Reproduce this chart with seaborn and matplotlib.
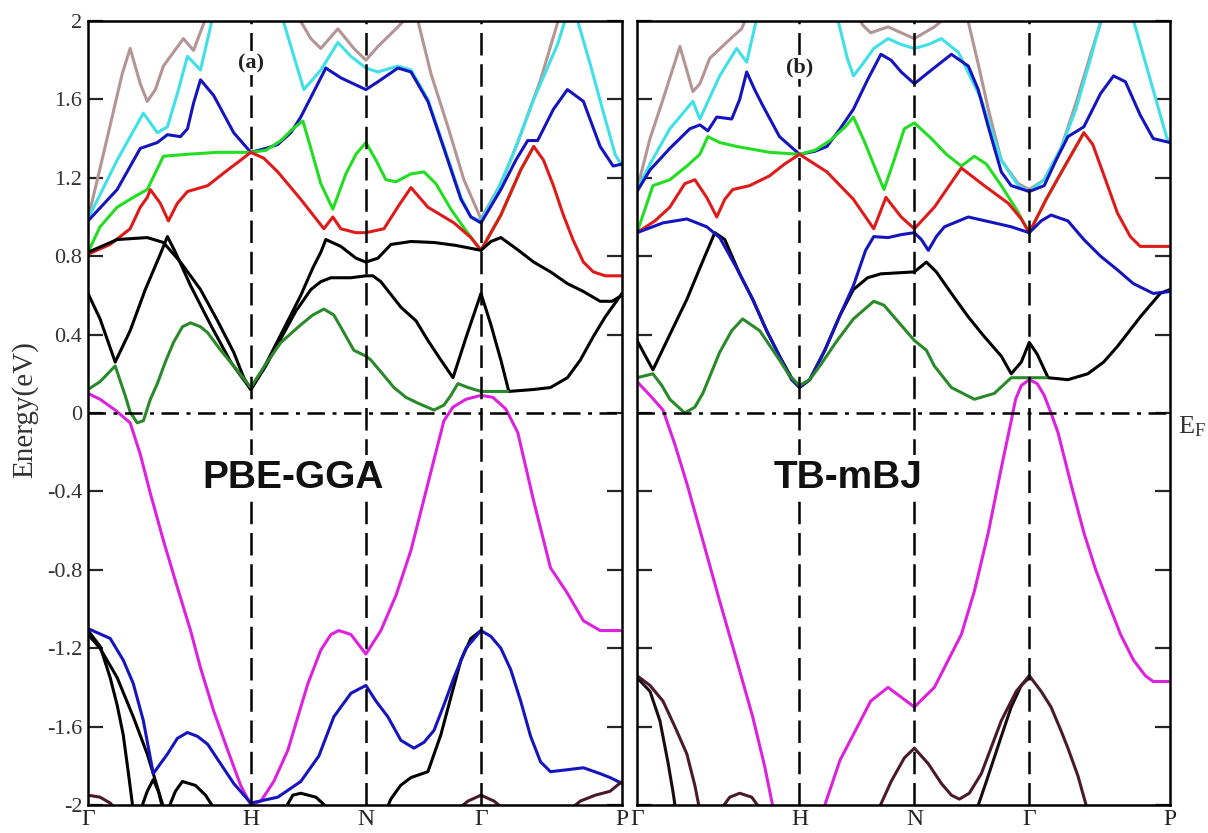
import numpy as np
import matplotlib
matplotlib.use("Agg")
import matplotlib.pyplot as plt
import matplotlib.transforms as mtransforms
import seaborn as sns

# ---------------------------------------------------------------------------
# k-path (bcc): Gamma-H-N-Gamma-P, cumulative distances
k_nodes = [0.0, 1.0, 1.7071, 2.4142, 3.2802]
k_labels = ["\u0393", "H", "N", "\u0393", "P"]
e_ticks = [-2.0, -1.6, -1.2, -0.8, -0.4, 0.0, 0.4, 0.8, 1.2, 1.6, 2.0]
e_tick_labels = ["-2", "-1.6", "-1.2", "-0.8", "-0.4", "0", "0.4", "0.8", "1.2", "1.6", "2"]

# ---------------------------------------------------------------------------
# (a) PBE-GGA bands (k, E in eV)
gga_magenta_k = [0, 0.074, 0.167, 0.259, 0.321, 0.383, 0.463, 0.549, 0.63, 0.691, 0.772, 0.858, 0.938, 1.0,
                 1.062, 1.141, 1.228, 1.307, 1.351, 1.43, 1.492, 1.541, 1.615, 1.707, 1.799, 1.892, 1.984,
                 2.088, 2.186, 2.242, 2.322, 2.414, 2.487, 2.567, 2.64, 2.738, 2.841, 2.945, 3.043, 3.146, 3.28]
gga_magenta_e = [0.10, 0.07, 0.015, -0.05, -0.21, -0.41, -0.65, -0.89, -1.11, -1.30, -1.52, -1.72, -1.90, -2.0,
                 -1.98, -1.88, -1.72, -1.50, -1.38, -1.21, -1.13, -1.11, -1.13, -1.23, -1.11, -0.93, -0.70,
                 -0.36, -0.04, 0.03, 0.07, 0.09, 0.08, 0.02, -0.10, -0.45, -0.79, -0.92, -1.06, -1.11, -1.11]

gga_dgreen_k = [0, 0.074, 0.167, 0.228, 0.259, 0.302, 0.34, 0.383, 0.426, 0.475, 0.525, 0.58, 0.63, 0.691,
                0.735, 0.815, 0.895, 1.0, 1.092, 1.185, 1.307, 1.381, 1.449, 1.51, 1.572, 1.633, 1.707, 1.738,
                1.799, 1.879, 1.953, 2.027, 2.125, 2.186, 2.229, 2.272, 2.334, 2.414, 2.579]
gga_dgreen_e = [0.12, 0.16, 0.24, 0.09, 0.005, -0.05, -0.04, 0.07, 0.15, 0.26, 0.36, 0.44, 0.46, 0.44,
                0.41, 0.32, 0.24, 0.13, 0.25, 0.36, 0.45, 0.50, 0.53, 0.50, 0.41, 0.32, 0.29, 0.27,
                0.21, 0.13, 0.08, 0.05, 0.015, 0.04, 0.09, 0.15, 0.13, 0.11, 0.11]

gga_black1_k = [0, 0.179, 0.364, 0.463, 0.568, 0.691, 0.796, 0.895, 0.957, 1.0,
                1.074, 1.154, 1.246, 1.307, 1.381, 1.43, 1.461, 1.553, 1.646, 1.707,
                1.781, 1.861, 1.984, 2.125, 2.26, 2.414,
                2.475, 2.536, 2.628, 2.738, 2.841, 2.945, 3.043, 3.146, 3.219, 3.28]
gga_black1_e = [0.82, 0.885, 0.895, 0.87, 0.77, 0.63, 0.47, 0.31, 0.18, 0.12,
                0.22, 0.35, 0.50, 0.60, 0.74, 0.82, 0.885, 0.85, 0.79, 0.77,
                0.79, 0.86, 0.875, 0.87, 0.855, 0.83,
                0.875, 0.895, 0.84, 0.77, 0.72, 0.66, 0.62, 0.57, 0.57, 0.60]

gga_black2_k = [0, 0.074, 0.167, 0.259, 0.352, 0.444, 0.488, 0.537, 0.63, 0.753, 0.877, 1.0,
                1.092, 1.185, 1.277, 1.369, 1.43, 1.492, 1.615, 1.707,
                1.75, 1.799, 1.922, 2.015, 2.088, 2.168, 2.242, 2.328, 2.414,
                2.475, 2.536, 2.585, 2.738, 2.841, 2.945, 3.024, 3.104, 3.177, 3.28]
gga_black2_e = [0.61, 0.48, 0.26, 0.42, 0.63, 0.81, 0.90, 0.82, 0.65, 0.45, 0.26, 0.12,
                0.24, 0.38, 0.52, 0.63, 0.67, 0.69, 0.69, 0.70,
                0.70, 0.67, 0.54, 0.47, 0.37, 0.27, 0.18, 0.40, 0.61,
                0.45, 0.27, 0.11, 0.12, 0.13, 0.18, 0.27, 0.39, 0.49, 0.61]

gga_red_k = [0, 0.136, 0.259, 0.321, 0.364, 0.383, 0.444, 0.494, 0.549, 0.611, 0.735, 0.858, 0.938, 1.0,
             1.08, 1.166, 1.307, 1.449, 1.504, 1.553, 1.646, 1.707, 1.818, 1.91, 1.984, 2.088, 2.248,
             2.352, 2.414, 2.536, 2.658, 2.738, 2.798, 2.859, 2.92, 2.981, 3.043, 3.104, 3.177, 3.28]
gga_red_e = [0.81, 0.86, 0.94, 1.05, 1.10, 1.14, 1.07, 0.98, 1.07, 1.13, 1.16, 1.24, 1.29, 1.33,
             1.30, 1.23, 1.09, 0.94, 1.00, 0.94, 0.92, 0.92, 0.94, 1.06, 1.15, 1.05, 0.97,
             0.895, 0.83, 1.01, 1.24, 1.36, 1.29, 1.16, 1.01, 0.88, 0.77, 0.72, 0.70, 0.70]

gga_lime_k = [0, 0.074, 0.179, 0.278, 0.364, 0.463, 0.611, 0.796, 1.0, 1.092, 1.185, 1.258, 1.32, 1.369,
              1.43, 1.504, 1.584, 1.646, 1.707, 1.769, 1.83, 1.892, 1.984, 2.064, 2.137, 2.229, 2.322,
              2.414, 2.536, 2.658, 2.738]
gga_lime_e = [0.82, 0.95, 1.05, 1.10, 1.14, 1.31, 1.32, 1.33, 1.33, 1.34, 1.39, 1.45, 1.49, 1.35,
              1.17, 1.04, 1.22, 1.32, 1.38, 1.29, 1.19, 1.18, 1.22, 1.23, 1.17, 1.04, 0.93,
              0.83, 1.01, 1.24, 1.36]

gga_blue_k = [0, 0.179, 0.321, 0.426, 0.488, 0.568, 0.611, 0.648, 0.691, 0.772, 0.895, 1.0, 1.092, 1.166,
              1.246, 1.307, 1.381, 1.461, 1.553, 1.707, 1.781, 1.904, 1.984, 2.088, 2.186, 2.291, 2.352,
              2.414, 2.536, 2.628, 2.701, 2.762, 2.859, 2.945, 3.043, 3.146, 3.226, 3.28]
gga_blue_e = [0.98, 1.14, 1.35, 1.38, 1.42, 1.41, 1.45, 1.58, 1.70, 1.62, 1.43, 1.33, 1.35, 1.37,
              1.43, 1.51, 1.63, 1.76, 1.71, 1.65, 1.69, 1.76, 1.74, 1.59, 1.35, 1.09, 1.0,
              0.97, 1.14, 1.29, 1.39, 1.39, 1.55, 1.65, 1.59, 1.36, 1.26, 1.27]

gga_cyan1_k = [0, 0.179, 0.34, 0.426, 0.488, 0.549, 0.611, 0.691, 0.772]
gga_cyan1_e = [0.99, 1.29, 1.53, 1.43, 1.46, 1.63, 1.82, 1.75, 2.04]
gga_cyan2_k = [1.185, 1.326, 1.43, 1.535, 1.615, 1.707, 1.781, 1.904, 1.984, 2.088, 2.186, 2.291, 2.352,
               2.414, 2.506, 2.597, 2.738, 2.884, 2.945]
gga_cyan2_e = [2.04, 1.65, 1.75, 1.89, 1.82, 1.76, 1.74, 1.77, 1.75, 1.60, 1.36, 1.10, 1.0,
               0.98, 1.12, 1.29, 1.60, 1.88, 2.04]
gga_cyan3_k = [2.994, 3.085, 3.177, 3.238, 3.28]
gga_cyan3_e = [2.04, 1.78, 1.50, 1.32, 1.26]

gga_gray1_k = [0, 0.117, 0.21, 0.259, 0.321, 0.364, 0.414, 0.463, 0.586, 0.648, 0.735]
gga_gray1_e = [0.99, 1.40, 1.73, 1.86, 1.68, 1.59, 1.65, 1.77, 1.91, 1.85, 2.04]
gga_gray2_k = [1.277, 1.369, 1.43, 1.535, 1.633, 1.707, 1.781, 1.904, 1.984]
gga_gray2_e = [2.04, 1.91, 1.86, 1.96, 1.86, 1.80, 1.87, 1.97, 2.04]
gga_gray3_k = [2.015, 2.107, 2.211, 2.309, 2.414, 2.536, 2.64, 2.78, 2.902]
gga_gray3_e = [2.04, 1.73, 1.46, 1.19, 0.99, 1.17, 1.38, 1.70, 2.04]

gga_blue_low_k = [0, 0.136, 0.216, 0.278, 0.34, 0.401, 0.444, 0.488, 0.549, 0.611, 0.673, 0.735, 0.815,
                  0.895, 1.0, 1.166, 1.307, 1.418, 1.51, 1.615, 1.707, 1.769, 1.842, 1.922, 2.002, 2.064,
                  2.125, 2.186, 2.248, 2.322, 2.414, 2.475, 2.536, 2.597, 2.658, 2.719, 2.78, 2.841,
                  2.945, 3.043, 3.146, 3.207, 3.28]
gga_blue_low_e = [-1.10, -1.15, -1.26, -1.38, -1.57, -1.84, -1.79, -1.74, -1.66, -1.63, -1.65, -1.69, -1.79,
                  -1.89, -1.99, -1.96, -1.88, -1.75, -1.55, -1.43, -1.39, -1.47, -1.55, -1.67, -1.71, -1.68,
                  -1.62, -1.49, -1.35, -1.20, -1.11, -1.14, -1.20, -1.31, -1.47, -1.65, -1.78, -1.83,
                  -1.82, -1.81, -1.84, -1.86, -1.89]

gga_low1_k = [0, 0.074, 0.136, 0.179, 0.216, 0.247, 0.278]
gga_low1_e = [-1.11, -1.19, -1.35, -1.49, -1.64, -1.83, -2.03]
gga_low2_k = [0, 0.074, 0.179, 0.278, 0.364, 0.401, 0.47]
gga_low2_e = [-1.13, -1.20, -1.35, -1.55, -1.74, -1.84, -2.03]
gga_low3_k = [0.321, 0.364, 0.401, 0.432, 0.463]
gga_low3_e = [-2.03, -1.93, -1.87, -1.93, -2.03]
gga_low4_k = [0.488, 0.537, 0.58, 0.66, 0.722, 0.784]
gga_low4_e = [-2.03, -1.93, -1.88, -1.90, -1.95, -2.03]
gga_low5_k = [1.203, 1.258, 1.307, 1.4, 1.492]
gga_low5_e = [-2.03, -1.95, -1.94, -1.96, -2.03]
gga_low6_k = [1.83, 1.86, 1.92, 1.984, 2.088, 2.168, 2.229, 2.291, 2.352, 2.414]
gga_low6_e = [-2.03, -1.97, -1.90, -1.86, -1.83, -1.64, -1.45, -1.26, -1.15, -1.11]

gga_maroon1_k = [0, 0.074, 0.136, 0.185]
gga_maroon1_e = [-1.95, -1.96, -1.99, -2.03]
gga_maroon2_k = [2.26, 2.334, 2.414, 2.494, 2.567]
gga_maroon2_e = [-2.03, -1.98, -1.95, -1.98, -2.03]
gga_maroon3_k = [2.951, 3.024, 3.116, 3.207, 3.28]
gga_maroon3_e = [-2.03, -1.98, -1.95, -1.93, -1.88]

# ---------------------------------------------------------------------------
# (b) TB-mBJ bands (k, E in eV)
mbj_magenta_k = [0, 0.08, 0.16, 0.233, 0.307, 0.405, 0.509, 0.613, 0.712, 0.785, 0.834, 0.859,
                 1.138, 1.156, 1.25, 1.332, 1.438, 1.545, 1.626, 1.707, 1.83, 1.916, 1.996, 2.076, 2.162,
                 2.242, 2.303, 2.33, 2.365, 2.414, 2.463, 2.506, 2.548, 2.591, 2.67, 2.75, 2.823, 2.896,
                 2.976, 3.055, 3.128, 3.177, 3.28]
mbj_magenta_e = [0.16, 0.09, 0.015, -0.16, -0.36, -0.65, -0.96, -1.26, -1.55, -1.80, -2.0, -2.06,
                 -2.06, -2.0, -1.77, -1.64, -1.47, -1.40, -1.45, -1.50, -1.40, -1.26, -1.13, -0.91, -0.61,
                 -0.28, -0.04, 0.07, 0.14, 0.17, 0.15, 0.09, 0.0, -0.10, -0.36, -0.61, -0.80, -0.96,
                 -1.13, -1.26, -1.34, -1.37, -1.37]

mbj_dgreen_k = [0, 0.098, 0.153, 0.202, 0.294, 0.356, 0.405, 0.509, 0.583, 0.65, 0.755, 0.877, 0.939, 1.0,
                1.063, 1.125, 1.232, 1.332, 1.457, 1.52, 1.582, 1.707, 1.781, 1.83, 1.935, 2.076, 2.199,
                2.303, 2.414, 2.518]
mbj_dgreen_e = [0.18, 0.20, 0.14, 0.07, 0.0, 0.03, 0.10, 0.31, 0.42, 0.48, 0.42, 0.27, 0.19, 0.14,
                0.17, 0.24, 0.37, 0.48, 0.57, 0.55, 0.49, 0.37, 0.32, 0.24, 0.13, 0.07, 0.10,
                0.18, 0.18, 0.18]

mbj_black_k = [0, 0.098, 0.202, 0.307, 0.387, 0.479, 0.54, 0.632, 0.712, 0.798, 0.877, 0.951, 1.0,
               1.063, 1.156, 1.25, 1.332, 1.419, 1.501, 1.707, 1.781, 1.842, 1.935, 2.039, 2.137, 2.242,
               2.303, 2.365, 2.414, 2.463, 2.53, 2.652, 2.774, 2.872, 2.957, 3.097, 3.22, 3.28]
mbj_black_e = [0.37, 0.22, 0.40, 0.58, 0.74, 0.92, 0.885, 0.71, 0.58, 0.42, 0.29, 0.18, 0.13,
               0.17, 0.32, 0.50, 0.63, 0.69, 0.71, 0.72, 0.77, 0.72, 0.61, 0.49, 0.39, 0.29,
               0.20, 0.26, 0.36, 0.30, 0.18, 0.17, 0.20, 0.26, 0.34, 0.49, 0.61, 0.63]

mbj_blue_low_k = [0, 0.16, 0.307, 0.429, 0.509, 0.613, 0.712, 0.798, 0.877, 0.951, 1.0, 1.063, 1.156,
                  1.25, 1.332, 1.407, 1.457, 1.545, 1.626, 1.707, 1.75, 1.793, 1.842, 1.892, 2.039, 2.199,
                  2.303, 2.414, 2.487, 2.548, 2.652, 2.75, 2.853, 2.957, 3.055, 3.177, 3.28]
mbj_blue_low_e = [0.92, 0.97, 0.99, 0.95, 0.895, 0.74, 0.58, 0.42, 0.29, 0.17, 0.13, 0.17, 0.32,
                  0.50, 0.65, 0.83, 0.90, 0.895, 0.91, 0.92, 0.885, 0.83, 0.90, 0.95, 1.0, 0.97,
                  0.95, 0.92, 0.98, 1.01, 0.98, 0.885, 0.80, 0.73, 0.66, 0.61, 0.62]

mbj_red_k = [0, 0.11, 0.202, 0.294, 0.356, 0.429, 0.491, 0.54, 0.589, 0.693, 0.816, 0.908, 1.0, 1.169,
             1.332, 1.457, 1.532, 1.626, 1.707, 1.83, 1.996, 2.137, 2.285, 2.365, 2.414, 2.518, 2.64,
             2.75, 2.805, 2.853, 2.957, 3.036, 3.097, 3.28]
mbj_red_e = [0.92, 0.98, 1.05, 1.17, 1.19, 1.10, 1.0, 1.09, 1.14, 1.16, 1.21, 1.27, 1.32, 1.23,
             1.09, 0.94, 1.10, 1.0, 0.94, 1.05, 1.25, 1.16, 1.07, 0.99, 0.92, 1.09, 1.27,
             1.43, 1.37, 1.26, 1.02, 0.90, 0.85, 0.85]

mbj_lime_k = [0, 0.098, 0.202, 0.307, 0.387, 0.436, 0.509, 0.613, 0.816, 1.0, 1.094, 1.188, 1.282, 1.332,
              1.407, 1.47, 1.52, 1.582, 1.645, 1.707, 1.812, 1.904, 1.996, 2.076, 2.15, 2.242, 2.334,
              2.414, 2.518, 2.64, 2.75]
mbj_lime_e = [0.92, 1.16, 1.19, 1.26, 1.32, 1.41, 1.38, 1.36, 1.33, 1.32, 1.34, 1.39, 1.46, 1.51,
              1.37, 1.24, 1.14, 1.29, 1.45, 1.48, 1.40, 1.32, 1.26, 1.31, 1.27, 1.16, 1.04,
              0.92, 1.09, 1.27, 1.43]

mbj_blue_k = [0, 0.08, 0.202, 0.325, 0.387, 0.436, 0.491, 0.583, 0.632, 0.675, 0.724, 0.773, 0.877, 1.0,
              1.094, 1.169, 1.25, 1.332, 1.419, 1.501, 1.564, 1.626, 1.707, 1.812, 1.935, 2.039, 2.1,
              2.162, 2.242, 2.303, 2.414, 2.506, 2.579, 2.652, 2.75, 2.853, 2.933, 3.006, 3.097, 3.177, 3.28]
mbj_blue_e = [1.13, 1.24, 1.35, 1.45, 1.47, 1.44, 1.51, 1.50, 1.60, 1.74, 1.65, 1.57, 1.41, 1.32,
              1.335, 1.36, 1.45, 1.55, 1.70, 1.83, 1.80, 1.74, 1.68, 1.75, 1.83, 1.77, 1.65,
              1.46, 1.23, 1.16, 1.13, 1.16, 1.29, 1.41, 1.46, 1.63, 1.72, 1.69, 1.52, 1.40, 1.38]

mbj_cyan1_k = [0, 0.08, 0.202, 0.344, 0.387, 0.448, 0.509, 0.613, 0.675, 0.736, 0.755]
mbj_cyan1_e = [1.14, 1.27, 1.45, 1.59, 1.50, 1.61, 1.72, 1.86, 1.79, 2.01, 2.06]
mbj_cyan2_k = [1.219, 1.25, 1.294, 1.332, 1.388, 1.457, 1.545, 1.626, 1.707, 1.793, 1.873, 1.978, 2.119,
               2.242, 2.346, 2.414, 2.506, 2.609, 2.701, 2.792, 2.866]
mbj_cyan2_e = [2.06, 1.96, 1.81, 1.72, 1.78, 1.86, 1.91, 1.88, 1.86, 1.88, 1.91, 1.84, 1.60,
               1.29, 1.16, 1.13, 1.19, 1.35, 1.55, 1.81, 2.04]
mbj_cyan3_k = [3.043, 3.159, 3.262, 3.28]
mbj_cyan3_e = [2.04, 1.70, 1.40, 1.39]

mbj_gray1_k = [0, 0.08, 0.16, 0.264, 0.344, 0.387, 0.448, 0.589, 0.644, 0.693]
mbj_gray1_e = [1.14, 1.40, 1.60, 1.87, 1.64, 1.68, 1.81, 1.92, 1.96, 2.06]
mbj_gray2_k = [1.344, 1.388, 1.438, 1.545, 1.626, 1.707, 1.768, 1.83, 1.904]
mbj_gray2_e = [2.06, 1.98, 1.94, 1.97, 1.94, 1.91, 1.94, 1.97, 2.02]
mbj_gray3_k = [2.008, 2.039, 2.1, 2.162, 2.242, 2.346, 2.414, 2.506, 2.609, 2.701, 2.792, 2.872]
mbj_gray3_e = [2.06, 1.995, 1.78, 1.55, 1.29, 1.17, 1.14, 1.19, 1.35, 1.58, 1.83, 2.04]

mbj_maroon1_k = [0, 0.08, 0.16, 0.233, 0.307, 0.356, 0.387]
mbj_maroon1_e = [-1.34, -1.39, -1.47, -1.60, -1.74, -1.90, -2.03]
mbj_maroon2_k = [0, 0.08, 0.141, 0.19, 0.221, 0.239]
mbj_maroon2_e = [-1.35, -1.42, -1.57, -1.78, -1.93, -2.03]
mbj_maroon3_k = [0.509, 0.571, 0.632, 0.706, 0.767]
mbj_maroon3_e = [-2.03, -1.96, -1.94, -1.96, -2.03]
mbj_maroon4_k = [1.482, 1.564, 1.645, 1.707, 1.793, 1.873, 1.935, 1.984, 2.045, 2.119, 2.242, 2.334,
                 2.414, 2.487, 2.548, 2.609, 2.652, 2.713, 2.774]
mbj_maroon4_e = [-2.03, -1.88, -1.76, -1.71, -1.79, -1.89, -1.95, -1.97, -1.94, -1.84, -1.57, -1.42,
                 -1.34, -1.42, -1.50, -1.62, -1.71, -1.85, -2.03]
mbj_maroon5_k = [2.088, 2.15, 2.242, 2.303, 2.365, 2.414]
mbj_maroon5_e = [-2.03, -1.88, -1.65, -1.50, -1.39, -1.35]

# ---------------------------------------------------------------------------
C_BLACK = "#000000"
C_DGREEN = "#2a8a2a"
C_MAGENTA = "#dd22dd"
C_BLUE = "#1515c0"
C_RED = "#e01a1a"
C_LIME = "#22dd22"
C_CYAN = "#3fe0e8"
C_GRAY = "#b49494"
C_MAROON = "#4a1a2c"
C_DARK = "#1c0a12"

sns.set_theme(style="ticks")
plt.rcParams["font.family"] = ["Liberation Serif", "DejaVu Serif"]
plt.rcParams["mathtext.fontset"] = "stix"
plt.rcParams["lines.solid_joinstyle"] = "round"
plt.rcParams["lines.solid_capstyle"] = "round"

fig = plt.figure(figsize=(12.08, 8.33), dpi=100)
fig.patch.set_facecolor("white")
ax_a = fig.add_axes([88 / 1208, 28 / 833, 534 / 1208, 784 / 833])
ax_b = fig.add_axes([637 / 1208, 28 / 833, 533 / 1208, 784 / 833])


def band(ax, k, e, color, z=2):
    sns.lineplot(x=k, y=e, ax=ax, color=color, linewidth=2.2, sort=False,
                 estimator=None, zorder=z, legend=False)


gga_bands = [
    (gga_gray1_k, gga_gray1_e, C_GRAY), (gga_gray2_k, gga_gray2_e, C_GRAY), (gga_gray3_k, gga_gray3_e, C_GRAY),
    (gga_cyan1_k, gga_cyan1_e, C_CYAN), (gga_cyan2_k, gga_cyan2_e, C_CYAN), (gga_cyan3_k, gga_cyan3_e, C_CYAN),
    (gga_blue_k, gga_blue_e, C_BLUE),
    (gga_lime_k, gga_lime_e, C_LIME),
    (gga_red_k, gga_red_e, C_RED),
    (gga_black1_k, gga_black1_e, C_BLACK), (gga_black2_k, gga_black2_e, C_BLACK),
    (gga_dgreen_k, gga_dgreen_e, C_DGREEN),
    (gga_magenta_k, gga_magenta_e, C_MAGENTA),
    (gga_low1_k, gga_low1_e, C_BLACK), (gga_low2_k, gga_low2_e, C_BLACK), (gga_low3_k, gga_low3_e, C_BLACK),
    (gga_low4_k, gga_low4_e, C_BLACK), (gga_low5_k, gga_low5_e, C_BLACK), (gga_low6_k, gga_low6_e, C_BLACK),
    (gga_blue_low_k, gga_blue_low_e, C_BLUE),
    (gga_maroon1_k, gga_maroon1_e, C_MAROON), (gga_maroon2_k, gga_maroon2_e, C_MAROON),
    (gga_maroon3_k, gga_maroon3_e, C_MAROON),
]

mbj_bands = [
    (mbj_gray1_k, mbj_gray1_e, C_GRAY), (mbj_gray2_k, mbj_gray2_e, C_GRAY), (mbj_gray3_k, mbj_gray3_e, C_GRAY),
    (mbj_cyan1_k, mbj_cyan1_e, C_CYAN), (mbj_cyan2_k, mbj_cyan2_e, C_CYAN), (mbj_cyan3_k, mbj_cyan3_e, C_CYAN),
    (mbj_blue_k, mbj_blue_e, C_BLUE),
    (mbj_lime_k, mbj_lime_e, C_LIME),
    (mbj_red_k, mbj_red_e, C_RED),
    (mbj_black_k, mbj_black_e, C_BLACK),
    (mbj_blue_low_k, mbj_blue_low_e, C_BLUE),
    (mbj_dgreen_k, mbj_dgreen_e, C_DGREEN),
    (mbj_magenta_k, mbj_magenta_e, C_MAGENTA),
    (mbj_maroon2_k, mbj_maroon2_e, C_DARK), (mbj_maroon5_k, mbj_maroon5_e, C_DARK),
    (mbj_maroon1_k, mbj_maroon1_e, C_MAROON), (mbj_maroon3_k, mbj_maroon3_e, C_MAROON),
    (mbj_maroon4_k, mbj_maroon4_e, C_MAROON),
]

for ax, bands in ((ax_a, gga_bands), (ax_b, mbj_bands)):
    for i, (k, e, c) in enumerate(bands):
        band(ax, k, e, c, z=2 + i * 0.01)

    ax.set_xlim(k_nodes[0], k_nodes[-1])
    ax.set_ylim(-2, 2)
    ax.set_xlabel("")
    ax.set_ylabel("")
    ax.set_xticks(k_nodes)
    ax.set_xticklabels(k_labels)
    ax.set_yticks(e_ticks)
    ax.tick_params(axis="x", length=0, pad=3, labelsize=17, colors="#222222")
    ax.tick_params(axis="y", direction="in", length=11, width=1.6, left=True, right=True,
                   labelsize=16, labelcolor="#333333", pad=4)
    for side in ("left", "right", "top", "bottom"):
        ax.spines[side].set_visible(True)
        ax.spines[side].set_linewidth(1.8)
        ax.spines[side].set_color("black")

    # high-symmetry points and Fermi level
    for kv in k_nodes[1:-1]:
        ax.axvline(kv, color="black", linewidth=1.8, linestyle=(0, (9, 3.5)), zorder=5)
    ax.axhline(0, color="black", linewidth=1.8, linestyle=(0, (7, 3, 1.6, 3)), zorder=5)

ax_a.set_yticklabels(e_tick_labels)
ax_b.set_yticklabels([])

panel_box = dict(facecolor="white", edgecolor="none", pad=1.5)
ax_a.text(1.0, 1.785, "(a)", ha="center", va="center", fontsize=16, fontweight="bold",
          color="#222222", bbox=panel_box, zorder=10)
ax_b.text(1.0, 1.765, "(b)", ha="center", va="center", fontsize=16, fontweight="bold",
          color="#222222", bbox=panel_box, zorder=10)

method_box = dict(facecolor="white", edgecolor="none", pad=3)
ax_a.text(1.258, -0.33, "PBE-GGA", ha="center", va="center", fontsize=28, fontweight="bold",
          family=["Liberation Sans", "DejaVu Sans"], color="#111111", bbox=method_box, zorder=10)
ax_b.text(1.30, -0.33, "TB-mBJ", ha="center", va="center", fontsize=28, fontweight="bold",
          family=["Liberation Sans", "DejaVu Sans"], color="#111111", bbox=method_box, zorder=10)

# Fermi level label to the right of panel (b)
ef_trans = mtransforms.blended_transform_factory(ax_b.transAxes, ax_b.transData)
ax_b.annotate("E$_\\mathregular{F}$", xy=(1.0, 0.0), xycoords=ef_trans, xytext=(6, -1),
              textcoords="offset points", ha="left", va="top", fontsize=19, color="#333333",
              annotation_clip=False)

fig.text(25 / 1208, 1 - 410 / 833, "Energy(eV)", rotation=90, ha="center", va="center",
         fontsize=21, color="#333333")

fig.savefig("out.png", dpi=100, facecolor="white")
